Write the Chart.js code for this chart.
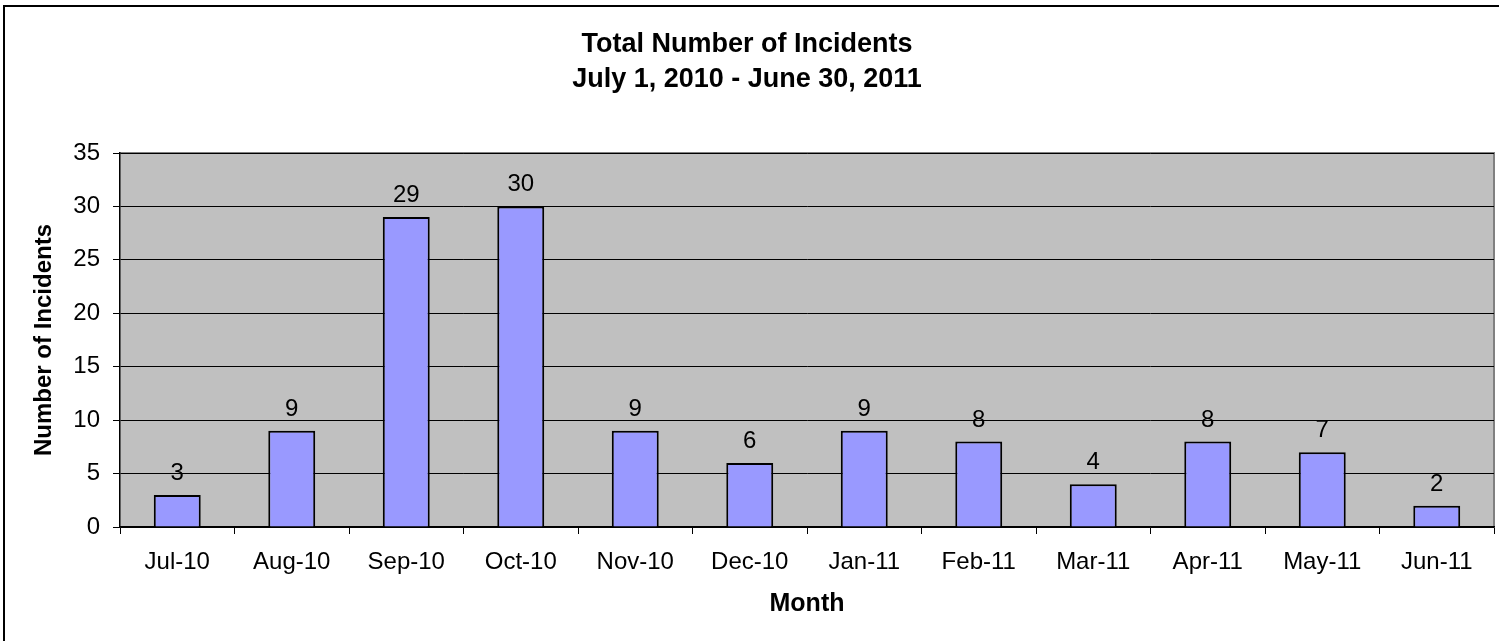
<!DOCTYPE html>
<html>
<head>
<meta charset="utf-8">
<script src="https://cdn.jsdelivr.net/npm/chart.js@4"></script>
<style>
  body { margin: 0; background: #fff; }
  #wrap { width: 1499px; height: 641px; }
</style>
</head>
<body>
<div id="wrap"><canvas id="chart" width="1499" height="641"></canvas></div>
<script>
var months = ['Jul-10', 'Aug-10', 'Sep-10', 'Oct-10', 'Nov-10', 'Dec-10',
        'Jan-11', 'Feb-11', 'Mar-11', 'Apr-11', 'May-11', 'Jun-11'];
var incidents = [3, 9, 29, 30, 9, 6, 9, 8, 4, 8, 7, 2];
var yTicks = [0, 5, 10, 15, 20, 25, 30, 35];
var titleLines = ['Total Number of Incidents', 'July 1, 2010 - June 30, 2011'];

var FONT = "'Liberation Sans', Arial, sans-serif";

// white page + the black frame that is cut off at the right and bottom
var framePlugin = {
  id: 'frame',
  beforeDraw: function(chart){
    let ctx = chart.ctx;
    ctx.save();
    ctx.fillStyle = '#fff';
    ctx.fillRect(0, 0, chart.width, chart.height);
    ctx.fillStyle = '#000';
    ctx.fillRect(3, 5, chart.width - 3, 2);
    ctx.fillRect(3, 5, 2, chart.height - 5);
    ctx.restore();
  }
};

// grey plot area with a darker edge on top and right
var plotAreaPlugin = {
  id: 'plotArea',
  beforeDraw: function(chart){
    let a = chart.chartArea;
    let ctx = chart.ctx;
    ctx.save();
    ctx.fillStyle = '#c0c0c0';
    ctx.fillRect(a.left, a.top, a.right - a.left, a.bottom - a.top);
    ctx.strokeStyle = '#808080';
    ctx.lineWidth = 2;
    ctx.beginPath();
    ctx.moveTo(a.left, a.top);
    ctx.lineTo(a.right, a.top);
    ctx.lineTo(a.right, a.bottom);
    ctx.stroke();
    ctx.restore();
  }
};

// value labels above each bar
var valueLabels = {
  id: 'valueLabels',
  afterDatasetsDraw: function(chart){
    let ctx = chart.ctx;
    let meta = chart.getDatasetMeta(0);
    ctx.save();
    ctx.font = '24px ' + FONT;
    ctx.fillStyle = '#000';
    ctx.textAlign = 'center';
    ctx.textBaseline = 'alphabetic';
    meta.data.forEach(function(bar, i){
      ctx.fillText(String(incidents[i]), bar.x, bar.y - 15);
    });
    ctx.restore();
  }
};

new Chart(document.getElementById('chart'), {
  type: 'bar',
  data: {
    labels: months,
    datasets: [{
      data: incidents,
      backgroundColor: '#9999ff',
      borderColor: '#000',
      borderWidth: 2,
      categoryPercentage: 1,
      barPercentage: 0.41
    }]
  },
  options: {
    responsive: false,
    animation: false,
    devicePixelRatio: 1,
    layout: { padding: { left: 0, right: 5, top: 0, bottom: 0 } },
    plugins: {
      legend: { display: false },
      tooltip: { enabled: false },
      title: {
        display: true,
        text: titleLines,
        color: '#000',
        font: { family: FONT, size: 27, weight: 'bold', lineHeight: '35px' },
        padding: { top: 27, bottom: 56 }
      }
    },
    scales: {
      x: {
        offset: true,
        afterFit: function(scale){ scale.height = 114; },
        grid: {
          offset: true,
          drawOnChartArea: false,
          drawTicks: true,
          tickLength: 7,
          color: '#000'
        },
        border: { color: '#000', width: 1.5 },
        ticks: {
          color: '#000',
          padding: 14,
          maxRotation: 0,
          autoSkip: false,
          font: { family: FONT, size: 24 }
        },
        title: {
          display: true,
          text: 'Month',
          color: '#000',
          font: { family: FONT, size: 25, weight: 'bold' },
          padding: { top: 0, bottom: 22 }
        }
      },
      y: {
        min: 0,
        max: 35,
        afterFit: function(scale){ scale.width = 120; },
        afterBuildTicks: function(scale){
          scale.ticks = yTicks.map(function(v){ return { value: v }; });
        },
        grid: {
          color: '#000',
          lineWidth: 1,
          tickLength: 7,
          drawTicks: true
        },
        border: { color: '#000', width: 1.5 },
        ticks: {
          color: '#000',
          padding: 13,
          font: { family: FONT, size: 24 }
        },
        title: {
          display: true,
          text: 'Number of Incidents',
          color: '#000',
          font: { family: FONT, size: 24, weight: 'bold' },
          padding: { top: 30, bottom: 0 }
        }
      }
    }
  },
  plugins: [framePlugin, plotAreaPlugin, valueLabels]
});
</script>
</body>
</html>
